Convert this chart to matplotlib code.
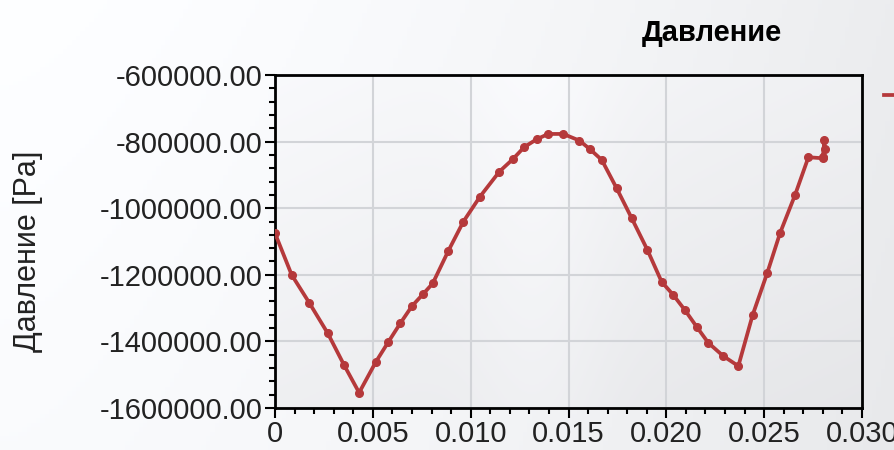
import numpy as np
import matplotlib.pyplot as plt
from matplotlib.ticker import MultipleLocator, FormatStrFormatter, FuncFormatter

plt.rcParams['font.family'] = ['Liberation Sans', 'DejaVu Sans']

# data
time_s = [0.0, 0.00085, 0.00175, 0.0027, 0.00353, 0.0043, 0.00516, 0.0058,
          0.0064, 0.0070, 0.00755, 0.00806, 0.00886, 0.00963, 0.01048,
          0.01147, 0.01215, 0.01273, 0.01337, 0.01397, 0.01473, 0.01556,
          0.0161, 0.0167, 0.01746, 0.01823, 0.01903, 0.01976, 0.02036,
          0.02095, 0.02155, 0.02214, 0.02291, 0.02368, 0.02441, 0.02516,
          0.02581, 0.02658, 0.02726, 0.0280, 0.02808, 0.0281, 0.0280]
pressure_pa = [-1075000, -1200000, -1284000, -1376000, -1471000, -1554000,
               -1461000, -1401000, -1346000, -1294000, -1259000, -1226000,
               -1128000, -1040000, -965000, -890000, -853000, -817000,
               -793000, -777000, -777000, -797000, -823000, -855000,
               -940000, -1030000, -1125000, -1221000, -1261000, -1306000,
               -1356000, -1404000, -1444000, -1474000, -1321000, -1194000,
               -1075000, -960000, -847000, -850000, -795000, -822000,
               -845000]

title = "Давление"
ylabel = "Давление [Pa]"

fig = plt.figure(figsize=(8.94, 4.5), dpi=100)

# figure background gradient
bg = fig.add_axes([0, 0, 1, 1], zorder=-10)
gx = np.linspace(0, 1, 200)
gy = np.linspace(0, 1, 100)
GX, GY = np.meshgrid(gx, gy)
shade = 0.995 - 0.07 * GX ** 1.5 - 0.015 * GY
bg.imshow(np.dstack([shade, shade + 0.004, shade + 0.012]).clip(0, 1),
          aspect='auto', extent=[0, 1, 0, 1], origin='upper')
bg.axis('off')

ax = fig.add_axes([275 / 894, 42 / 450, 587 / 894, 333 / 450])
ax.set_xlim(0, 0.030)
ax.set_ylim(-1600000, -600000)

# plot area gradient
px = np.linspace(0, 1, 200)
py = np.linspace(0, 1, 100)
PX, PY = np.meshgrid(px, py)
pshade = 0.975 - 0.04 * PY - 0.035 * PX + 0.02 * np.exp(-((PX - 0.45) / 0.12) ** 2)
ax.imshow(np.dstack([pshade, pshade + 0.003, pshade + 0.012]).clip(0, 1),
          aspect='auto', extent=[0, 0.030, -1600000, -600000], zorder=0)

ax.grid(True, color='#d2d4d8', linewidth=1.5, zorder=1)
ax.plot(time_s, pressure_pa, color='#b5393b', linewidth=2.7, marker='o',
        markersize=5.5, label=title, zorder=3)

ax.xaxis.set_major_locator(MultipleLocator(0.005))
ax.xaxis.set_minor_locator(MultipleLocator(0.001))
ax.xaxis.set_major_formatter(FuncFormatter(lambda v, p: "0" if abs(v) < 1e-12 else f"{v:.3f}"))
ax.yaxis.set_major_locator(MultipleLocator(200000))
ax.yaxis.set_minor_locator(MultipleLocator(40000))
ax.yaxis.set_major_formatter(FormatStrFormatter('%.2f'))

ax.tick_params(which='major', direction='out', length=7, width=1.5,
               labelsize=21, pad=2, color='black', labelcolor='#222222')
ax.tick_params(which='minor', direction='out', length=4, width=1.5, color='black')
for s in ax.spines.values():
    s.set_linewidth(2)
    s.set_color('black')

ax.set_ylabel(ylabel, fontsize=22, color='#222222')
ax.yaxis.set_label_coords(-0.395, 0.47)

fig.text(712 / 894, 1 - 33 / 450, title, fontsize=21, fontweight='bold',
         ha='center', va='center')

fig.legend(loc='center left', bbox_to_anchor=(884 / 894, 1 - 98 / 450),
           frameon=False, fontsize=20, handlelength=2, borderpad=0,
           borderaxespad=0)

fig.savefig("out.png", dpi=100)
